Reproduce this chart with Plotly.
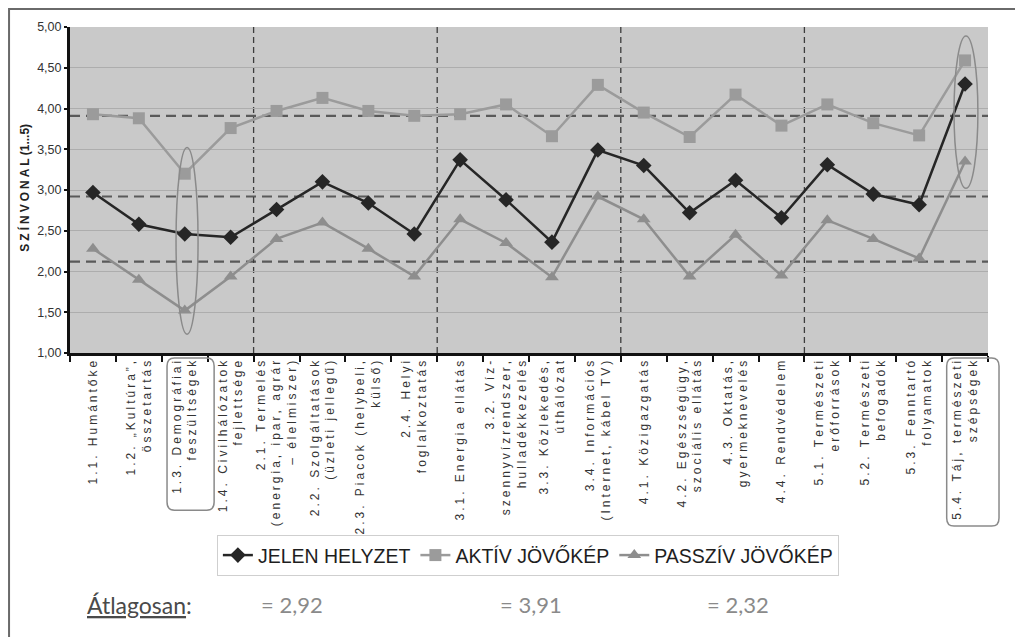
import plotly.graph_objects as go

categories = [
    "1.1. Humántőke",
    "1.2. „Kultúra”,<br>összetartás",
    "1.3. Demográfiai<br>feszültségek",
    "1.4. Civilhálózatok<br>fejlettsége",
    "2.1. Termelés<br>(energia, ipar, agrár<br>– élelmiszer)",
    "2.2. Szolgáltatások<br>(üzleti jellegű)",
    "2.3. Piacok (helybeli,<br>külső)",
    "2.4. Helyi<br>foglalkoztatás",
    "3.1. Energia ellátás",
    "3.2. Víz-<br>szennyvízrendszer,<br>hulladékkezelés",
    "3.3. Közlekedés,<br>úthálózat",
    "3.4. Információs<br>(Internet, kábel TV)",
    "4.1. Közigazgatás",
    "4.2. Egészségügy,<br>szociális ellátás",
    "4.3. Oktatás,<br>gyermeknevelés",
    "4.4. Rendvédelem",
    "5.1. Természeti<br>erőforrások",
    "5.2. Természeti<br>befogadók",
    "5.3. Fenntartó<br>folyamatok",
    "5.4. Táj, természeti<br>szépségek",
]

jelen = [2.97, 2.58, 2.46, 2.42, 2.76, 3.10, 2.84, 2.46, 3.37, 2.88,
         2.36, 3.49, 3.30, 2.72, 3.12, 2.66, 3.31, 2.95, 2.82, 4.30]
aktiv = [3.93, 3.88, 3.20, 3.76, 3.97, 4.13, 3.97, 3.91, 3.93, 4.05,
         3.66, 4.29, 3.95, 3.65, 4.17, 3.79, 4.05, 3.82, 3.67, 4.59]
passziv = [2.28, 1.90, 1.52, 1.94, 2.40, 2.60, 2.28, 1.94, 2.64, 2.35,
           1.93, 2.92, 2.64, 1.94, 2.45, 1.95, 2.63, 2.40, 2.16, 3.35]

series_names = ["JELEN HELYZET", "AKTÍV JÖVŐKÉP", "PASSZÍV JÖVŐKÉP"]
avg_lines = [3.91, 2.92, 2.12]
avg_labels = ["= 2,92", "= 3,91", "= 2,32"]
group_boundaries = [3.5, 7.5, 11.5, 15.5]

SP = "\u2005"


def spaced(s, sep=SP):
    parts = s.split("<br>")
    return "<br>".join(sep.join(list(p)) for p in parts)


x = [spaced(c) for c in categories]

SANS = "Liberation Sans, Arial, sans-serif"

fig = go.Figure()
fig.add_trace(go.Scatter(
    x=x, y=jelen, name=series_names[0], mode="lines+markers",
    line=dict(color="#262626", width=2.5),
    marker=dict(symbol="diamond", size=12, color="#262626"),
))
fig.add_trace(go.Scatter(
    x=x, y=aktiv, name=series_names[1], mode="lines+markers",
    line=dict(color="#9b9b9b", width=2.5),
    marker=dict(symbol="square", size=12, color="#9b9b9b"),
))
fig.add_trace(go.Scatter(
    x=x, y=passziv, name=series_names[2], mode="lines+markers",
    line=dict(color="#8e8e8e", width=2.5),
    marker=dict(symbol="triangle-up", size=12, color="#8e8e8e"),
))

shapes = []
for v in avg_lines:
    shapes.append(dict(type="line", xref="paper", yref="y", x0=0, x1=1, y0=v, y1=v,
                       line=dict(color="#5a5a5a", width=2.2, dash="10px,6px"), layer="below"))
for b in group_boundaries:
    shapes.append(dict(type="line", xref="x", yref="paper", x0=b, x1=b, y0=0, y1=1,
                       line=dict(color="#3c3c3c", width=1.3, dash="6px,4px"), layer="below"))
shapes.append(dict(type="circle", xref="x", yref="y", x0=1.81, x1=2.29, y0=1.23, y1=3.52,
                   line=dict(color="#8a8a8a", width=1.5)))
shapes.append(dict(type="circle", xref="x", yref="y", x0=18.76, x1=19.28, y0=3.02, y1=4.89,
                   line=dict(color="#8a8a8a", width=1.5)))


def rounded_rect(x0, x1, y0, y1, rx=0.008, ry=0.025):
    return (f"M {x0+rx},{y0} L {x1-rx},{y0} Q {x1},{y0} {x1},{y0-ry} "
            f"L {x1},{y1+ry} Q {x1},{y1} {x1-rx},{y1} L {x0+rx},{y1} "
            f"Q {x0},{y1} {x0},{y1+ry} L {x0},{y0-ry} Q {x0},{y0} {x0+rx},{y0} Z")


shapes.append(dict(type="path", xref="paper", yref="paper",
                   path=rounded_rect(0.1057, 0.157, -0.015, -0.482),
                   line=dict(color="#8a8a8a", width=1.5)))
shapes.append(dict(type="path", xref="paper", yref="paper",
                   path=rounded_rect(0.955, 1.012, -0.015, -0.531),
                   line=dict(color="#8a8a8a", width=1.5)))
shapes.append(dict(type="rect", xref="paper", yref="paper", x0=-0.0664, x1=1.06,
                   y0=-0.9, y1=1.0552, line=dict(color="#6a6a6a", width=2), layer="below"))

annotations = [
    dict(text="<b>" + spaced("SZÍNVONAL", "\u2005") + " (1...5)</b>", xref="paper", yref="paper",
         x=-0.0505, xanchor="center", y=0.506, textangle=-90, showarrow=False,
         font=dict(family=SANS, size=12, color="#222")),
    dict(text="<u>Átlagosan</u>:", xref="paper", yref="paper", x=0.0163, y=-0.773,
         xanchor="left", yanchor="middle", showarrow=False,
         font=dict(family="Lato, Open Sans, sans-serif", size=23, color="#4a4a4a")),
]
avg_x = [0.2059, 0.4662, 0.6917]
for t, xx in zip(avg_labels, avg_x):
    annotations.append(dict(text=t, xref="paper", yref="paper", x=xx, y=-0.773,
                            xanchor="left", yanchor="middle", showarrow=False,
                            font=dict(family="Lato, Open Sans, sans-serif", size=22, color="#8a8a8a")))

fig.update_layout(
    width=1015, height=629,
    margin=dict(l=62, r=35, t=19, b=284, autoexpand=False),
    paper_bgcolor="white",
    plot_bgcolor="#c9c9c9",
    separators=",.",
    showlegend=True,
    legend=dict(orientation="h", x=0.16, y=-0.558, xanchor="left", yanchor="top",
                bgcolor="white", bordercolor="#cfcfcf", borderwidth=1,
                font=dict(family=SANS, size=19.5, color="#1e1e1e"),
                itemwidth=30, tracegroupgap=0),
    shapes=shapes,
    annotations=annotations,
    xaxis=dict(
        type="category", tickson="boundaries", ticks="outside", ticklen=6, tickwidth=2,
        tickcolor="#111", showline=True, linecolor="#111", linewidth=3,
        showgrid=False, tickangle=-90, automargin=False,
        tickfont=dict(family=SANS, size=12, color="#333"),
        range=[-0.5, 19.5],
    ),
    yaxis=dict(
        range=[1, 5], dtick=0.5, tickformat=".2f", ticks="outside", ticklen=3,
        tickwidth=2, tickcolor="#111", showline=True, linecolor="#111", linewidth=3,
        showgrid=True, gridcolor="#adadad", gridwidth=1, zeroline=False, automargin=False,
        tickfont=dict(family=SANS, size=12.5, color="#333"),
    ),
)

fig.write_html("out.html")
